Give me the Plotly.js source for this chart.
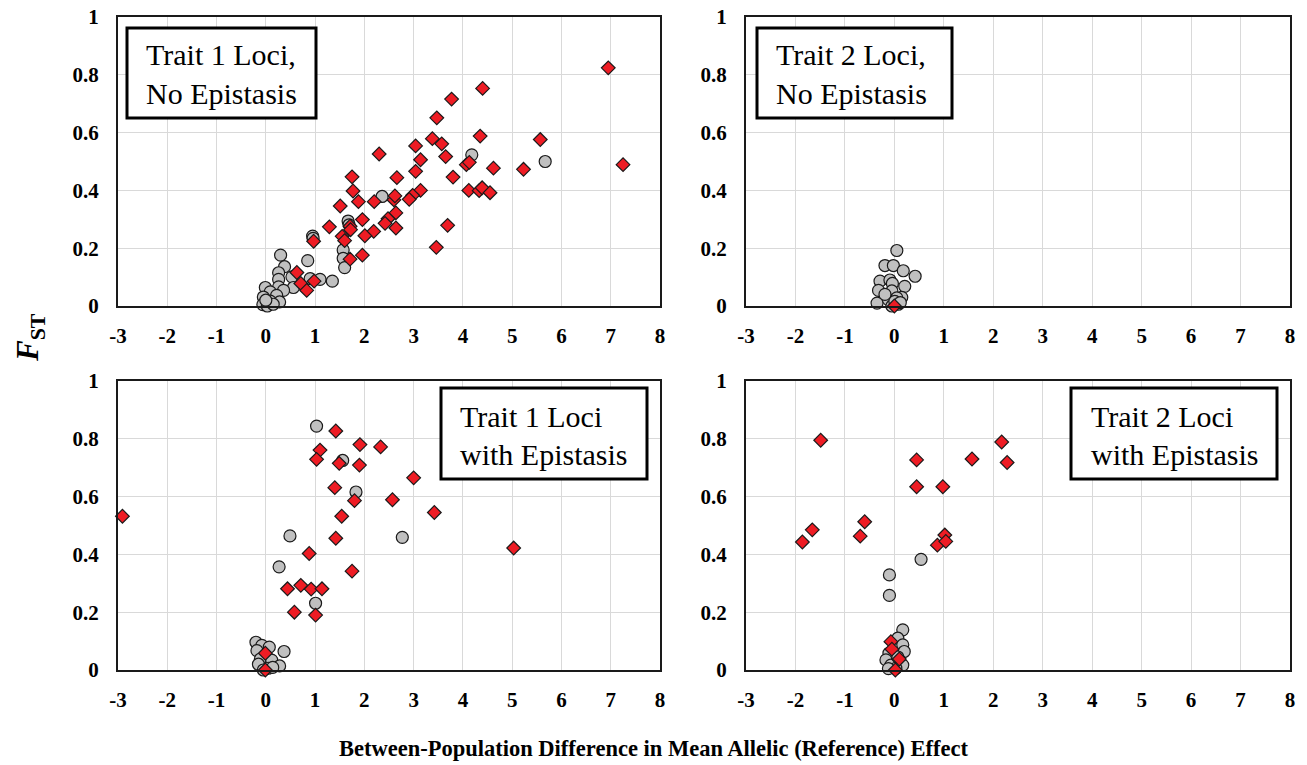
<!DOCTYPE html>
<html>
<head>
<meta charset="utf-8">
<script src="https://cdn.plot.ly/plotly-3.0.1.min.js"></script>
<style>html,body{margin:0;padding:0;background:#fff;}#chart{width:1307px;height:765px;}</style>
</head>
<body>
<div id="chart"></div>
<script>
// ---------- DATA ----------
const xTickVals = [-3,-2,-1,0,1,2,3,4,5,6,7,8];
const xTickText = ["-3","-2","-1","0","1","2","3","4","5","6","7","8"];
const yTickVals = [0,0.2,0.4,0.6,0.8,1];
const yTickText = ["0","0.2","0.4","0.6","0.8","1"];

const panelTitles = [
  ["Trait 1 Loci,", "No Epistasis"],
  ["Trait 2 Loci,", "No Epistasis"],
  ["Trait 1 Loci", "with Epistasis"],
  ["Trait 2 Loci", "with Epistasis"]
];
const yAxisTitle = "<b><i>F</i><sub>ST</sub></b>";
const xAxisTitle = "<b>Between-Population Difference in Mean Allelic (Reference) Effect</b>";

// Panel 1: Trait 1, no epistasis
const p1RedX = [6.95,4.40,3.77,3.47,4.35,5.57,3.38,3.57,3.04,2.30,3.65,3.14,7.25,4.07,4.13,4.62,5.23,3.04,1.75,2.66,3.80,1.77,4.12,4.33,4.39,4.55,3.14,2.98,2.91,1.88,2.20,2.60,2.62,1.51,1.96,2.64,2.48,2.42,2.64,1.29,1.71,1.72,2.19,2.01,1.55,1.60,0.97,3.69,3.46,1.71,1.96,0.63,0.71,0.98,0.83];
const p1RedY = [0.824,0.753,0.716,0.651,0.588,0.576,0.579,0.561,0.554,0.526,0.517,0.506,0.489,0.489,0.497,0.477,0.473,0.466,0.447,0.444,0.446,0.398,0.400,0.399,0.409,0.392,0.400,0.383,0.369,0.361,0.361,0.367,0.381,0.346,0.299,0.322,0.302,0.286,0.270,0.274,0.276,0.264,0.258,0.243,0.241,0.226,0.224,0.279,0.203,0.162,0.176,0.116,0.078,0.086,0.054];
const p1GrayX = [4.18,5.67,2.36,1.67,1.69,0.95,0.96,1.57,1.57,1.60,0.30,0.85,0.38,0.26,0.53,0.26,0.90,1.10,1.35,0.56,-0.01,0.26,0.36,0.09,0.22,-0.05,0.28,0.09,-0.06,0.03,0.15,0.00];
const p1GrayY = [0.523,0.500,0.379,0.294,0.281,0.242,0.234,0.194,0.165,0.133,0.176,0.157,0.136,0.115,0.101,0.092,0.095,0.092,0.086,0.064,0.064,0.066,0.054,0.049,0.037,0.031,0.014,0.017,0.005,0.000,0.006,0.020];

// Panel 2: Trait 2, no epistasis
const p2RedX = [0.00];
const p2RedY = [0.000];
const p2GrayX = [0.05,-0.19,-0.02,0.18,0.42,-0.29,-0.09,-0.04,0.21,-0.32,-0.05,0.15,-0.35,-0.12,0.05,-0.19,0.08,-0.05,0.01,0.12];
const p2GrayY = [0.192,0.140,0.140,0.122,0.103,0.086,0.090,0.078,0.068,0.054,0.052,0.030,0.010,0.022,0.028,0.040,0.006,0.000,0.016,0.012];

// Panel 3: Trait 1, with epistasis
const p3RedX = [-2.91,1.42,1.91,2.33,1.10,1.03,1.49,1.90,3.00,1.40,1.80,2.57,1.54,3.42,1.42,5.03,0.88,1.75,0.44,0.71,0.92,1.14,0.58,1.01,-0.01,-0.01];
const p3RedY = [0.532,0.827,0.780,0.772,0.761,0.729,0.715,0.709,0.665,0.631,0.586,0.589,0.532,0.545,0.456,0.422,0.403,0.342,0.281,0.293,0.280,0.281,0.200,0.190,0.058,0.000];
const p3GrayX = [1.03,1.56,1.83,0.49,2.77,0.27,1.01,-0.20,-0.08,0.07,0.37,-0.18,-0.11,0.12,0.28,-0.15,0.05,-0.05,0.14];
const p3GrayY = [0.844,0.725,0.616,0.464,0.459,0.357,0.231,0.096,0.085,0.079,0.064,0.067,0.038,0.034,0.014,0.020,0.006,0.000,0.009];

// Panel 4: Trait 2, with epistasis
const p4RedX = [-1.49,-1.86,-1.66,-0.60,-0.69,0.45,0.45,0.98,1.57,2.17,2.28,0.87,1.02,1.04,-0.07,-0.05,0.10,0.02];
const p4RedY = [0.795,0.443,0.485,0.513,0.463,0.727,0.634,0.634,0.730,0.789,0.718,0.432,0.467,0.445,0.098,0.072,0.038,0.000];
const p4GrayX = [0.54,-0.10,-0.10,0.17,0.07,0.17,0.20,-0.11,0.10,-0.17,-0.07,0.17,0.03,0.07,-0.12];
const p4GrayY = [0.383,0.329,0.258,0.139,0.110,0.087,0.064,0.058,0.035,0.035,0.017,0.017,0.006,0.045,0.005];

// ---------- STYLE / LAYOUT ----------
const W = 1307, H = 765;
const FONT = "Liberation Serif";
const RED = "#ee1c24", GRAY = "#c0c0c0", EDGE = "#1a1a1a";
const px = v => v / W;
const py = v => 1 - v / H;
const bold = arr => arr.map(s => "<b>" + s + "</b>");

const panels = [
  {gx:p1GrayX, gy:p1GrayY, rx:p1RedX, ry:p1RedY},
  {gx:p2GrayX, gy:p2GrayY, rx:p2RedX, ry:p2RedY},
  {gx:p3GrayX, gy:p3GrayY, rx:p3RedX, ry:p3RedY},
  {gx:p4GrayX, gy:p4GrayY, rx:p4RedX, ry:p4RedY}
];
// plot area pixel boxes [left,right,top,bottom]
const boxes = [[118,660,17,306],[746,1290,17,306],[118,660,381,670],[746,1290,381,670]];
// label boxes [left,right,top,bottom,textLeft,line1Y,line2Y]
const labelBoxes = [
  [127,316,28,118,144,55,93],
  [757,952,28,118,774,55,93],
  [441,647,388,479,458,417,454],
  [1071,1277,388,479,1089,417,454]
];

const traces = [];
const layout = {
  width: W, height: H,
  margin: {l:0, r:0, t:0, b:0},
  paper_bgcolor: "#fff", plot_bgcolor: "#fff",
  showlegend: false,
  font: {family: FONT, color: "#000"},
  shapes: [], annotations: []
};

panels.forEach((p, i) => {
  const n = i === 0 ? "" : String(i + 1);
  const xa = "x" + n, ya = "y" + n;
  traces.push({
    type: "scatter", mode: "markers", x: p.gx, y: p.gy, xaxis: xa, yaxis: ya,
    cliponaxis: false, hoverinfo: "skip",
    marker: {symbol: "circle", size: 12, color: GRAY, line: {color: EDGE, width: 1.2}}
  });
  traces.push({
    type: "scatter", mode: "markers", x: p.rx, y: p.ry, xaxis: xa, yaxis: ya,
    cliponaxis: false, hoverinfo: "skip",
    marker: {symbol: "diamond", size: 10.5, color: RED, line: {color: EDGE, width: 1.2}}
  });
  const b = boxes[i];
  layout["xaxis" + n] = {
    domain: [px(b[0]), px(b[1])], range: [-3, 8], anchor: ya,
    tickmode: "array", tickvals: xTickVals, ticktext: bold(xTickText),
    showgrid: true, gridcolor: "#d9d9d9", gridwidth: 1, zeroline: false,
    showline: true, linecolor: EDGE, linewidth: 2, mirror: true, ticks: "",
    ticklabelstandoff: 10,
    tickfont: {family: FONT, size: 21, color: "#000"}
  };
  layout["yaxis" + n] = {
    domain: [py(b[3]), py(b[2])], range: [0, 1], anchor: xa,
    tickmode: "array", tickvals: yTickVals, ticktext: bold(yTickText),
    showgrid: true, gridcolor: "#d9d9d9", gridwidth: 1, zeroline: false,
    showline: true, linecolor: EDGE, linewidth: 2, mirror: true, ticks: "",
    ticklabelstandoff: 13,
    tickfont: {family: FONT, size: 21, color: "#000"}
  };
  const lb = labelBoxes[i];
  layout.shapes.push({
    type: "rect", xref: "paper", yref: "paper",
    x0: px(lb[0]), x1: px(lb[1]), y0: py(lb[3]), y1: py(lb[2]),
    fillcolor: "#fff", line: {color: "#000", width: 3}, layer: "above"
  });
  [lb[5], lb[6]].forEach((yy, k) => {
    layout.annotations.push({
      xref: "paper", yref: "paper", x: px(lb[4]), y: py(yy),
      xanchor: "left", yanchor: "middle", showarrow: false,
      text: panelTitles[i][k],
      font: {family: FONT, size: 30, color: "#000"}
    });
  });
});

layout.annotations.push({
  xref: "paper", yref: "paper", x: px(30), y: py(338),
  xanchor: "center", yanchor: "middle", showarrow: false, textangle: -90,
  text: yAxisTitle, font: {family: FONT, size: 31, color: "#000"}
});
layout.annotations.push({
  xref: "paper", yref: "paper", x: px(653), y: py(748),
  xanchor: "center", yanchor: "middle", showarrow: false,
  text: xAxisTitle, font: {family: FONT, size: 22.5, color: "#000"}
});

Plotly.newPlot("chart", traces, layout, {staticPlot: true, displayModeBar: false});
</script>
</body>
</html>
